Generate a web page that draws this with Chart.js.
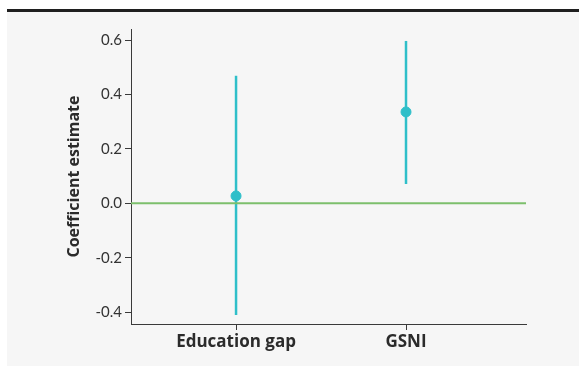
<!DOCTYPE html>
<html>
<head>
<meta charset="utf-8">
<script src="https://cdn.jsdelivr.net/npm/chart.js@4/dist/chart.umd.min.js"></script>
<style>
  html, body { margin:0; padding:0; background:#fff; }
  #panel { position:absolute; left:7px; top:9px; width:572px; height:354px;
           border-top:3px solid #1f1f1f; background:#f6f6f6; }
  #chart { position:absolute; left:0; top:0; }
</style>
</head>
<body>
<div id="panel"></div>
<canvas id="chart" width="579" height="368"></canvas>
<script>
const categories = ['Education gap', 'GSNI'];
const estimates = [0.027, 0.336];
const lower = [-0.411, 0.071];
const upper = [0.469, 0.597];
const yTicks = [-0.4, -0.2, 0.0, 0.2, 0.4, 0.6];

const teal = '#2fbfc9';
const green = '#7dbf6c';
const axisColor = '#3a3a3a';
const xMin = 0.382, xMax = 2.706;

Chart.defaults.font.family = 'Lato, "Open Sans", sans-serif';
Chart.defaults.color = '#333';

const whiskers = categories.map((c, i) => ({
  type: 'line',
  data: [{ x: i + 1, y: lower[i] }, { x: i + 1, y: upper[i] }],
  borderColor: teal,
  borderWidth: 2.5,
  pointRadius: 0,
  order: 2
}));

const ctx = document.getElementById('chart').getContext('2d');
new Chart(ctx, {
  type: 'scatter',
  data: {
    datasets: [
      {
        type: 'scatter',
        data: estimates.map((v, i) => ({ x: i + 1, y: v })),
        backgroundColor: teal,
        borderColor: teal,
        pointRadius: 5,
        order: 0
      },
      {
        type: 'line',
        data: [{ x: xMin, y: 0 }, { x: xMax, y: 0 }],
        borderColor: green,
        borderWidth: 2,
        pointRadius: 0,
        order: 1
      },
      ...whiskers
    ]
  },
  options: {
    responsive: false,
    animation: false,
    layout: { padding: { top: 29, right: 53, bottom: 0, left: 0 } },
    plugins: { legend: { display: false }, tooltip: { enabled: false } },
    scales: {
      x: {
        type: 'linear',
        min: xMin,
        max: xMax,
        afterBuildTicks: s => { s.ticks = categories.map((c, i) => ({ value: i + 1 })); },
        afterFit: s => { s.height = 44; },
        ticks: {
          callback: v => categories[v - 1],
          font: { family: '"Open Sans", sans-serif', size: 17, weight: 'bold' },
          color: '#2b2b2b',
          padding: 2,
          maxRotation: 0
        },
        grid: { drawOnChartArea: false, drawTicks: true, tickLength: 6, color: axisColor },
        border: { color: axisColor, width: 1 }
      },
      y: {
        min: -0.444,
        max: 0.641,
        afterBuildTicks: s => { s.ticks = yTicks.map(v => ({ value: v })); },
        afterFit: s => { s.width = 131; },
        ticks: {
          callback: v => v.toFixed(1),
          font: { size: 15 },
          color: '#333',
          padding: 3
        },
        grid: { drawOnChartArea: false, drawTicks: true, tickLength: 6, color: axisColor },
        border: { color: axisColor, width: 1 },
        title: {
          display: true,
          text: 'Coefficient estimate',
          font: { family: '"Open Sans", sans-serif', size: 16, weight: 'bold' },
          color: '#2b2b2b',
          padding: { top: 65, bottom: 0 }
        }
      }
    }
  }
});
</script>
</body>
</html>
